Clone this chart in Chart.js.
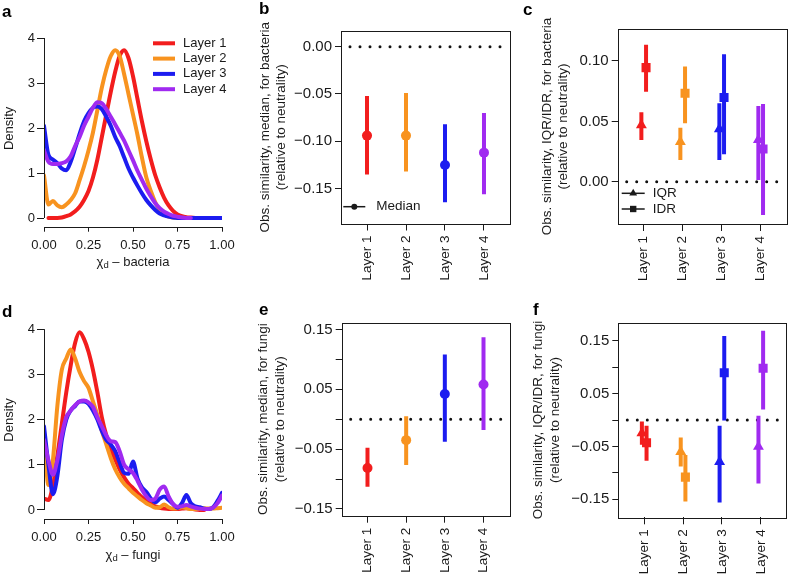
<!DOCTYPE html>
<html>
<head>
<meta charset="utf-8">
<script src="https://cdn.jsdelivr.net/npm/chart.js@4.4.1/dist/chart.umd.min.js"></script>
<style>
  html, body { margin: 0; padding: 0; background: #fff; }
  #wrap { position: relative; width: 788px; height: 576px; overflow: hidden; background: #fff; }
  #wrap canvas { position: absolute; left: 0; top: 0; }
</style>
</head>
<body>
<div id="wrap">
  <canvas id="panelA" width="788" height="576"></canvas>
  <canvas id="panelB" width="788" height="576"></canvas>
  <canvas id="panelC" width="788" height="576"></canvas>
  <canvas id="panelD" width="788" height="576"></canvas>
  <canvas id="panelE" width="788" height="576"></canvas>
  <canvas id="panelF" width="788" height="576"></canvas>
</div>
<script>
// ---- data ----
const layers = ['Layer 1', 'Layer 2', 'Layer 3', 'Layer 4'];
const layerPos = [1, 2, 3, 4];
const layerColors = ['#f21d1d', '#f8931f', '#1c1cf0', '#a02af0'];
const statNames = ['Median', 'IQR', 'IDR'];

// density curves (x grid shared by a and d)
const densX = [0, 0.025, 0.05, 0.075, 0.1, 0.125, 0.15, 0.175, 0.2, 0.225, 0.25, 0.275, 0.3, 0.325, 0.35, 0.375, 0.4, 0.425, 0.45, 0.475, 0.5,
  0.525, 0.55, 0.575, 0.6, 0.625, 0.65, 0.675, 0.7, 0.725, 0.75, 0.775, 0.8, 0.825, 0.85, 0.875, 0.9, 0.925, 0.95, 0.975, 1];
const densXTicks = [0, 0.25, 0.5, 0.75, 1];
const densYTicks = [0, 1, 2, 3, 4];

const aLayer1 = [null, 0, 0, 0, 0.01, 0.04, 0.08, 0.15, 0.25, 0.4, 0.6, 0.9, 1.3, 1.8, 2.3, 2.8, 3.25, 3.6, 3.73, 3.55, 3.15,
  2.65, 2.15, 1.7, 1.3, 0.95, 0.68, 0.45, 0.28, 0.16, 0.08, 0.04, 0.02, 0.01, 0, null, null, null, null, null, null];
const aLayer2 = [0.95, 0.3, 0.38, 0.28, 0.24, 0.3, 0.4, 0.55, 0.84, 1.15, 1.5, 1.9, 2.4, 2.9, 3.3, 3.6, 3.73, 3.6, 3.2, 2.75, 2.3,
  1.85, 1.35, 0.9, 0.6, 0.35, 0.17, 0.08, 0.03, 0.01, 0, null, null, null, null, null, null, null, null, null, null];
const aLayer3 = [2.05, 1.4, 1.3, 1.22, 1.1, 1.06, 1.25, 1.55, 1.87, 2.15, 2.33, 2.45, 2.48, 2.42, 2.25, 2.05, 1.8, 1.6, 1.35, 1.1, 0.9,
  0.72, 0.55, 0.4, 0.28, 0.18, 0.1, 0.06, 0.03, 0.01, 0, 0, 0, 0, 0, 0, 0, 0, 0, 0, 0];
const aLayer4 = [1.5, 1.25, 1.2, 1.2, 1.22, 1.26, 1.37, 1.6, 1.8, 2.05, 2.25, 2.45, 2.57, 2.55, 2.42, 2.25, 2.08, 1.9, 1.72, 1.5, 1.28,
  1.05, 0.85, 0.65, 0.48, 0.33, 0.22, 0.14, 0.09, 0.05, 0.03, 0.01, 0, 0, null, null, null, null, null, null, null];

const dLayer1 = [0.25, 0.22, 0.55, 1.2, 1.9, 2.6, 3.2, 3.7, 3.93, 3.78, 3.5, 3.1, 2.6, 2.05, 1.65, 1.35, 1.12, 0.9, 0.72, 0.58, 0.48,
  0.38, 0.28, 0.2, 0.13, 0.08, 0.05, 0.03, 0.02, 0.02, 0.02, 0.03, 0.04, 0.03, 0.01, 0, 0, null, null, null, null];
const dLayer2 = [1.7, 0.55, 1.1, 2.3, 3.1, 3.35, 3.55, 3.35, 3.05, 2.85, 2.7, 2.4, 2.1, 1.75, 1.45, 1.15, 0.9, 0.72, 0.58, 0.48, 0.38,
  0.3, 0.22, 0.15, 0.1, 0.05, 0.06, 0.12, 0.06, 0.03, 0.04, 0.06, 0.04, 0.02, 0.02, 0.03, 0.04, 0.03, 0.03, 0.04, 0.05];
const dLayer3 = [1.85, 1.0, 0.35, 0.75, 1.55, 2.0, 2.2, 2.3, 2.4, 2.4, 2.35, 2.2, 2.0, 1.75, 1.55, 1.45, 1.3, 1.05, 0.82, 0.8, 1.07,
  0.7, 0.5, 0.4, 0.25, 0.17, 0.25, 0.3, 0.22, 0.13, 0.05, 0.15, 0.33, 0.15, 0.08, 0.06, 0.03, 0.02, 0.06, 0.2, 0.38];
const dLayer4 = [1.55, 1.1, 0.78, 1.1, 1.65, 2.05, 2.2, 2.32, 2.4, 2.42, 2.38, 2.28, 2.05, 1.85, 1.65, 1.52, 1.5, 1.3, 1.0, 0.9, 0.82,
  0.65, 0.45, 0.3, 0.22, 0.25, 0.45, 0.52, 0.3, 0.13, 0.07, 0.08, 0.11, 0.08, 0.05, 0.03, 0.02, 0.02, 0.05, 0.15, 0.32];

// b: median, bacteria
const bMedian = [-0.094, -0.094, -0.125, -0.112];
const bLow = [-0.135, -0.132, -0.1645, -0.156];
const bHigh = [-0.052, -0.049, -0.082, -0.070];
const bTicks = [0, -0.05, -0.10, -0.15];

// c: IQR / IDR, bacteria
const cIqr = [0.047, 0.033, 0.0437, 0.0346];
const cIqrLow = [0.0346, 0.018, 0.018, 0.0014];
const cIqrHigh = [0.0575, 0.0448, 0.065, 0.0628];
const cIdr = [0.0945, 0.0733, 0.0697, 0.0271];
const cIdrLow = [0.0746, 0.0484, 0.0227, -0.0276];
const cIdrHigh = [0.1134, 0.0954, 0.1056, 0.0644];
const cTicks = [0, 0.05, 0.10];

// e: median, fungi
const eMedian = [-0.0815, -0.035, 0.042, 0.058];
const eLow = [-0.113, -0.0765, -0.0376, -0.018];
const eHigh = [-0.0476, 0.005, 0.108, 0.137];

// f: IQR / IDR, fungi
const fIqr = [-0.025, -0.06, -0.079, -0.0505];
const fIqrLow = [-0.047, -0.088, -0.156, -0.12];
const fIqrHigh = [-0.003, -0.033, -0.011, 0.008];
const fIdr = [-0.043, -0.108, 0.0895, 0.0977];
const fIdrLow = [-0.077, -0.154, -0.001, 0.020];
const fIdrHigh = [-0.011, -0.066, 0.159, 0.169];

const fungiTicks = [-0.15, -0.10, -0.05, 0, 0.05, 0.10, 0.15];
const fungiTickLabels = ['\u22120.15', '', '\u22120.05', '', '0.05', '', '0.15'];

const W = 788, H = 576;
const fontFam = '"Liberation Sans", Arial, Helvetica, sans-serif';
const ink = '#1a1a1a';
Chart.defaults.font.family = fontFam;
Chart.defaults.font.size = 13;
Chart.defaults.color = ink;

// ---- small plugins ----
function markerPath(ctx, style, x, y, r) {
    ctx.beginPath();
    if (style === 'circle') {
        ctx.arc(x, y, r, 0, Math.PI * 2);
    } else if (style === 'triangle') {
        ctx.moveTo(x, y - r);
        ctx.lineTo(x + r * 0.866, y + r / 2);
        ctx.lineTo(x - r * 0.866, y + r / 2);
        ctx.closePath();
    } else {
        ctx.rect(x - r * 0.707, y - r * 0.707, r * 1.414, r * 1.414);
    }
}

const extras = {
    id: 'extras',
    afterDraw(chart, args, o) {
        const { ctx, chartArea: a } = chart;
        ctx.save();
        if (o.frame) {
            ctx.strokeStyle = ink; ctx.lineWidth = 1;
            ctx.strokeRect(Math.round(a.left) + 0.5, Math.round(a.top) + 0.5,
                Math.round(a.right - a.left), Math.round(a.bottom - a.top));
        }
        if (o.rAxis) {
            const { x, y } = chart.scales;
            const px = Math.round(a.left) + 0.5, py = Math.round(a.bottom) + 0.5;
            ctx.strokeStyle = ink; ctx.lineWidth = 1;
            ctx.beginPath();
            ctx.moveTo(px, y.getPixelForValue(o.rAxis.y[0])); ctx.lineTo(px, y.getPixelForValue(o.rAxis.y[1]));
            ctx.moveTo(x.getPixelForValue(o.rAxis.x[0]), py); ctx.lineTo(x.getPixelForValue(o.rAxis.x[1]), py);
            ctx.stroke();
        }
        if (o.chi) {
            const y = a.bottom + o.chi.dy;
            const big = '13px ' + fontFam, small = '9.5px ' + fontFam;
            const rest = ' \u2013 ' + o.chi.word;
            ctx.fillStyle = ink; ctx.textBaseline = 'middle'; ctx.textAlign = 'left';
            ctx.font = big;
            const w1 = ctx.measureText('\u03c7').width, w3 = ctx.measureText(rest).width;
            ctx.font = small;
            const w2 = ctx.measureText('d').width;
            let x = (a.left + a.right) / 2 - (w1 + w2 + w3) / 2;
            ctx.font = big; ctx.fillText('\u03c7', x, y); x += w1;
            ctx.font = small; ctx.fillText('d', x, y + 3); x += w2;
            ctx.font = big; ctx.fillText(rest, x, y);
        }
        if (o.key) {
            const k = o.key;
            ctx.font = k.font + 'px ' + fontFam; ctx.textBaseline = 'middle'; ctx.textAlign = 'left';
            k.items.forEach((it, i) => {
                const y = (k.fromBottom ? a.bottom - k.y : a.top + k.y) + i * k.dy;
                const x0 = a.left + k.x;
                ctx.strokeStyle = it.color; ctx.lineWidth = it.width;
                ctx.beginPath(); ctx.moveTo(x0, y); ctx.lineTo(x0 + k.len, y); ctx.stroke();
                if (it.marker) {
                    ctx.fillStyle = it.color;
                    markerPath(ctx, it.marker, x0 + k.len / 2, y, it.r);
                    ctx.fill();
                }
                ctx.fillStyle = ink;
                ctx.fillText(it.text, x0 + k.len + k.gap, y);
            });
        }
        if (o.tag) {
            ctx.font = 'bold 17px ' + fontFam; ctx.fillStyle = '#000';
            ctx.textBaseline = 'alphabetic'; ctx.textAlign = 'left';
            ctx.fillText(o.tag.text, o.tag.x, o.tag.y);
        }
        ctx.restore();
    }
};
Chart.register(extras);

// ---- helpers ----
function fixY(w) { return s => { s.width = w; s.paddingTop = 0; s.paddingBottom = 0; }; }
function fixX(h) { return s => { s.height = h; s.paddingLeft = 0; s.paddingRight = 0; }; }
function setTicks(vals) { return s => { s.ticks = vals.map(v => ({ value: v })); }; }
function pad(box, yW, xH) { return { left: box.l - yW, top: box.t, right: W - box.r, bottom: H - box.b - xH }; }
function fmt(v) { return (v < 0 ? '\u2212' : '') + Math.abs(v).toFixed(2); }

function densityChart(id, box, yMin, yMax, series, word, key, tag) {
    const yW = box.l, xH = 50;
    return new Chart(document.getElementById(id), {
        type: 'line',
        data: {
            labels: densX,
            datasets: series.map((ys, i) => ({
                label: layers[i], data: ys, borderColor: layerColors[i], borderWidth: 4,
                pointRadius: 0, cubicInterpolationMode: 'monotone', order: 4 - i,
                borderCapStyle: 'round', borderJoinStyle: 'round'
            }))
        },
        options: {
            responsive: false, animation: false, events: [],
            layout: { padding: pad(box, yW, xH), autoPadding: false },
            plugins: {
                legend: { display: false }, tooltip: { enabled: false },
                extras: {
                    rAxis: { x: [0, 1], y: [0, 4] },
                    chi: { dy: 36, word: word },
                    key: key,
                    tag: tag
                }
            },
            scales: {
                x: {
                    type: 'linear', min: 0, max: 1,
                    afterBuildTicks: setTicks(densXTicks), afterFit: fixX(xH),
                    border: { display: false },
                    grid: { drawOnChartArea: false, tickLength: 5, color: ink },
                    ticks: { maxRotation: 0, padding: 6, callback: v => v.toFixed(2) }
                },
                y: {
                    min: yMin, max: yMax,
                    afterBuildTicks: setTicks(densYTicks), afterFit: fixY(yW),
                    border: { display: false },
                    grid: { drawOnChartArea: false, tickLength: 7, color: ink },
                    ticks: { padding: 2, callback: v => String(v) },
                    title: { display: true, text: 'Density', padding: { top: 2, bottom: 0 } }
                }
            }
        }
    });
}

function bar(x, lo, hi, color) {
    return { type: 'scatter', showLine: true, data: [{ x: x, y: lo }, { x: x, y: hi }], borderColor: color,
        borderWidth: 4, pointRadius: 0, order: 2 };
}
function marks(xs, ys, shift, style, r) {
    return { type: 'scatter', showLine: false, data: xs.map((x, i) => ({ x: x + shift, y: ys[i] })),
        pointStyle: style, pointRadius: r, pointBackgroundColor: layerColors, pointBorderColor: layerColors,
        pointBorderWidth: 0, order: 1 };
}
function zeroLine() {
    return { type: 'scatter', showLine: true, data: [{ x: 0.333, y: 0 }, { x: 4.667, y: 0 }], borderColor: '#111',
        borderWidth: 3, borderDash: [0, 10], borderDashOffset: 1, borderCapStyle: 'round', pointRadius: 0, order: 3 };
}

function errorChart(id, box, yW, xH, yMin, yMax, yTicks, yLabel, titleLines, datasets, key, tag) {
    return new Chart(document.getElementById(id), {
        type: 'scatter',
        data: { datasets: [zeroLine()].concat(datasets) },
        options: {
            responsive: false, animation: false, events: [],
            layout: { padding: pad(box, yW, xH), autoPadding: false },
            plugins: {
                legend: { display: false }, tooltip: { enabled: false },
                extras: { frame: true, key: key, tag: tag }
            },
            scales: {
                x: {
                    type: 'linear', min: 0.333, max: 4.667,
                    afterBuildTicks: setTicks(layerPos), afterFit: fixX(xH),
                    border: { display: false },
                    grid: { drawOnChartArea: false, tickLength: 7, color: ink },
                    ticks: { minRotation: 90, maxRotation: 90, autoSkip: false, padding: 5,
                        font: { size: 13.5 },
                        callback: v => layers[layerPos.indexOf(v)] }
                },
                y: {
                    type: 'linear', min: yMin, max: yMax,
                    afterBuildTicks: setTicks(yTicks), afterFit: fixY(yW),
                    border: { display: false },
                    grid: { drawOnChartArea: false, tickLength: 6, color: ink },
                    ticks: { padding: 3, font: { size: 15 }, callback: yLabel },
                    title: { display: true, text: titleLines, padding: { top: 1, bottom: 0 },
                        font: { size: 13.5, lineHeight: 1.2 } }
                }
            }
        }
    });
}

// ---- panels ----
densityChart('panelA', { l: 44, t: 30, r: 222, b: 226.7 }, -0.193, 4.178,
    [aLayer1, aLayer2, aLayer3, aLayer4], 'bacteria',
    { x: 109, y: 13.3, dy: 15.3, len: 22, gap: 8, font: 13,
      items: layers.map((n, i) => ({ text: n, color: layerColors[i], width: 4 })) },
    { text: 'a', x: 2, y: 17 });

densityChart('panelD', { l: 44, t: 321, r: 222, b: 519 }, -0.2, 4.18,
    [dLayer1, dLayer2, dLayer3, dLayer4], 'fungi', null,
    { text: 'd', x: 2, y: 316.5 });

errorChart('panelB', { l: 341, t: 31, r: 510, b: 223.5 }, 84.8, 62, -0.1869, 0.0166, bTicks, fmt,
    ['Obs. similarity, median, for bacteria', '(relative to neutrality)'],
    layers.map((n, i) => bar(layerPos[i], bLow[i], bHigh[i], layerColors[i]))
        .concat([marks(layerPos, bMedian, 0, 'circle', 5)]),
    { fromBottom: true, x: 2.3, y: 16.8, dy: 0, len: 22, gap: 11, font: 13.5,
      items: [{ text: statNames[0], color: ink, width: 1.5, marker: 'circle', r: 3 }] },
    { text: 'b', x: 259, y: 14 });

errorChart('panelC', { l: 617.7, t: 29, r: 786.7, b: 224 }, 79.8, 62, -0.035, 0.1265, cTicks, fmt,
    ['Obs. similarity, IQR/IDR, for bacteria', '(relative to neutrality)'],
    layers.map((n, i) => bar(layerPos[i] - 0.06, cIqrLow[i], cIqrHigh[i], layerColors[i]))
        .concat([marks(layerPos, cIqr, -0.06, 'triangle', 6.3)])
        .concat(layers.map((n, i) => bar(layerPos[i] + 0.06, cIdrLow[i], cIdrHigh[i], layerColors[i])))
        .concat([marks(layerPos, cIdr, 0.06, 'rect', 6.4)]),
    { fromBottom: true, x: 4, y: 30.7, dy: 15.7, len: 23, gap: 8, font: 13.5,
      items: [{ text: statNames[1], color: ink, width: 1.5, marker: 'triangle', r: 4.5 },
              { text: statNames[2], color: ink, width: 1.5, marker: 'rect', r: 4.5 }] },
    { text: 'c', x: 523, y: 15 });

errorChart('panelE', { l: 341.7, t: 322.7, r: 509.3, b: 515.7 }, 87.2, 58, -0.1613, 0.1613, fungiTicks,
    (v, i) => fungiTickLabels[i],
    ['Obs. similarity, median, for fungi', '(relative to neutrality)'],
    layers.map((n, i) => bar(layerPos[i], eLow[i], eHigh[i], layerColors[i]))
        .concat([marks(layerPos, eMedian, 0, 'circle', 5)]),
    null,
    { text: 'e', x: 259, y: 315 });

errorChart('panelF', { l: 618.3, t: 322.7, r: 786.7, b: 517.3 }, 88.8, 58, -0.184, 0.184, fungiTicks,
    (v, i) => fungiTickLabels[i],
    ['Obs. similarity, IQR/IDR, for fungi', '(relative to neutrality)'],
    layers.map((n, i) => bar(layerPos[i] - 0.06, fIqrLow[i], fIqrHigh[i], layerColors[i]))
        .concat([marks(layerPos, fIqr, -0.06, 'triangle', 6.3)])
        .concat(layers.map((n, i) => bar(layerPos[i] + 0.06, fIdrLow[i], fIdrHigh[i], layerColors[i])))
        .concat([marks(layerPos, fIdr, 0.06, 'rect', 6.4)]),
    null,
    { text: 'f', x: 533, y: 315 });
</script>
</body>
</html>
